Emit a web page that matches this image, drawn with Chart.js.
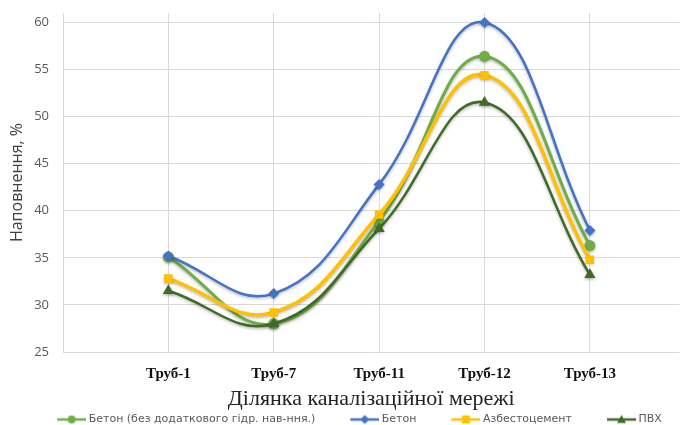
<!DOCTYPE html>
<html>
<head>
<meta charset="utf-8">
<script src="https://cdn.jsdelivr.net/npm/chart.js@4/dist/chart.umd.min.js"></script>
<style>
  html,body{margin:0;padding:0;background:#fff;}
  #wrap{width:686px;height:425px;position:relative;}
</style>
</head>
<body>
<div id="wrap"><canvas id="c" width="686" height="425"></canvas></div>
<script>
// values
const categories = ['Труб-1','Труб-7','Труб-11','Труб-12','Труб-13'];
const seriesNames = ['Бетон (без додаткового гідр. нав-ння.)','Бетон','Азбестоцемент','ПВХ'];
const betonNoHydro = [35.1, 28.0, 38.9, 56.4, 36.3];
const beton        = [35.2, 31.2, 42.8, 60.0, 37.9];
const asbestos     = [32.8, 29.2, 39.6, 54.4, 34.8];
const pvc          = [31.5, 28.0, 38.1, 51.5, 33.2];
const yTicks = [25, 30, 35, 40, 45, 50, 55, 60];
const xTicks = [0, 1, 2, 3, 4, 5];

const colors = { green:'#70AD47', blue:'#4472C4', yellow:'#FFC000', dark:'#3F6B27' };

const toPoints = arr => arr.map((v,i)=>({x:i+1, y:v}));

// legend swatch: transparent gap on the left, then a short line with the marker
const GAP = 36, SW = 29;
function swatch(color, style, r){
  const cv = document.createElement('canvas');
  cv.width = GAP + SW; cv.height = 12;
  const g = cv.getContext('2d');
  const cx = GAP + SW/2;
  g.strokeStyle = color; g.lineWidth = 2.5;
  g.beginPath(); g.moveTo(GAP,6); g.lineTo(GAP+SW,6); g.stroke();
  g.fillStyle = color;
  g.beginPath();
  if(style==='circle'){ g.arc(cx,6,r,0,Math.PI*2); }
  else if(style==='rectRot'){ g.moveTo(cx,6-r); g.lineTo(cx+r,6); g.lineTo(cx,6+r); g.lineTo(cx-r,6); g.closePath(); }
  else if(style==='rect'){ g.rect(cx-r,6-r,2*r,2*r); }
  else { g.moveTo(cx,6-r); g.lineTo(cx+r,6+r*0.8); g.lineTo(cx-r,6+r*0.8); g.closePath(); }
  g.fill();
  return cv;
}

const shadow = {
  id:'shadow',
  beforeDatasetDraw(chart){
    const ctx = chart.ctx;
    ctx.save();
    ctx.shadowColor = 'rgba(0,0,0,0.28)';
    ctx.shadowBlur = 3;
    ctx.shadowOffsetY = 1.5;
  },
  afterDatasetDraw(chart){ chart.ctx.restore(); }
};

const datasets = [
  {label:seriesNames[0], data:toPoints(betonNoHydro), borderColor:colors.green, backgroundColor:colors.green,
   borderWidth:3, pointStyle:'circle', pointRadius:5.5, order:4, sw:swatch(colors.green,'circle',4)},
  {label:seriesNames[1], data:toPoints(beton), borderColor:colors.blue, backgroundColor:colors.blue,
   borderWidth:2.5, pointStyle:'rectRot', pointRadius:5.5, order:3, sw:swatch(colors.blue,'rectRot',4.5)},
  {label:seriesNames[2], data:toPoints(asbestos), borderColor:colors.yellow, backgroundColor:colors.yellow,
   borderWidth:3.5, pointStyle:'rect', pointRadius:6, order:2, sw:swatch(colors.yellow,'rect',4)},
  {label:seriesNames[3], data:toPoints(pvc), borderColor:colors.dark, backgroundColor:colors.dark,
   borderWidth:2.5, pointStyle:'triangle', pointRadius:6.5, order:1, sw:swatch(colors.dark,'triangle',4.5)},
];
datasets.forEach(d=>{ d.tension = 0.42; d.pointBorderWidth = 0; d.fill = false; });

new Chart(document.getElementById('c'), {
  type:'line',
  data:{ datasets },
  plugins:[shadow],
  options:{
    responsive:false,
    animation:false,
    devicePixelRatio:1,
    layout:{ padding:{ top:13, right:0, left:0, bottom:-10 } },
    plugins:{
      tooltip:{enabled:false},
      legend:{
        position:'bottom',
        labels:{
          usePointStyle:true,
          pointStyleWidth:GAP+SW-6,
          boxHeight:11,
          padding:2,
          color:'#595959',
          font:{family:'"DejaVu Sans", sans-serif', size:11},
          generateLabels(chart){
            return chart.data.datasets.map((d,i)=>({
              text:d.label, pointStyle:d.sw, fillStyle:d.borderColor, strokeStyle:d.borderColor,
              lineWidth:0, datasetIndex:i, hidden:false, fontColor:'#595959'
            }));
          }
        }
      }
    },
    scales:{
      x:{
        type:'linear', min:0, max:5.85,
        afterBuildTicks(s){ s.ticks = xTicks.map(v=>({value:v})); },
        afterFit(s){ s.height = 60; s.paddingLeft = 0; s.paddingRight = 0; },
        grid:{ color:'#d9d9d9', drawTicks:false },
        border:{ display:false },
        ticks:{
          padding:13, color:'#111', autoSkip:false, maxRotation:0,
          font:{family:'"Liberation Serif", serif', size:15, weight:'bold'},
          callback:v=>categories[v-1] || ''
        },
        title:{ display:true, text:'Ділянка каналізаційної мережі', color:'#222',
          font:{family:'"Liberation Serif", serif', size:22, lineHeight:1}, padding:{top:0,bottom:2} }
      },
      y:{
        min:25, max:61,
        afterBuildTicks(s){ s.ticks = yTicks.map(v=>({value:v})); },
        afterFit(s){ s.width = 63; s.paddingTop = 0; s.paddingBottom = 0; },
        grid:{ color:'#d9d9d9', drawTicks:false },
        border:{ display:false },
        ticks:{ padding:14, color:'#595959', font:{family:'"Open Sans", sans-serif', size:13} },
        title:{ display:true, text:'Наповнення, %', color:'#404040',
          font:{family:'"Open Sans", sans-serif', size:16, lineHeight:1.2}, padding:{top:8,bottom:0} }
      }
    }
  }
});
</script>
</body>
</html>
